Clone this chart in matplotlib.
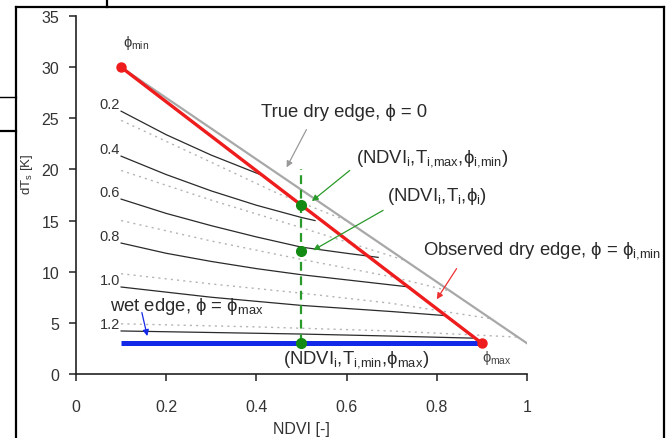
import matplotlib
matplotlib.use('Agg')
import matplotlib.pyplot as plt
from matplotlib.lines import Line2D

plt.rcParams['font.family'] = ['Liberation Sans', 'DejaVu Sans']
plt.rcParams['mathtext.fontset'] = 'custom'
plt.rcParams['mathtext.rm'] = 'Liberation Sans'
plt.rcParams['mathtext.it'] = 'Liberation Sans:italic'

# edges of the triangle
edge_ndvi_obs = [0.1, 0.9]
edge_t_obs = [30, 3]
edge_ndvi_true = [0.1, 1.0]
edge_t_true = [30, 3]
wet_ndvi = [0.1, 0.9]
wet_t = [3, 3]

# phi isolines (solid, relative to observed dry edge)
iso_labels = ['0.2', '0.4', '0.6', '0.8', '1.0', '1.2']
iso_ndvi = [
    [0.1, 0.2, 0.3, 0.42],
    [0.1, 0.2, 0.3, 0.4, 0.5, 0.53],
    [0.1, 0.2, 0.3, 0.4, 0.5, 0.6, 0.67],
    [0.1, 0.2, 0.3, 0.4, 0.5, 0.6, 0.74],
    [0.1, 0.2, 0.3, 0.4, 0.5, 0.6, 0.7, 0.82],
    [0.1, 0.3, 0.5, 0.7, 0.88],
]
iso_t = [
    [25.7, 23.4, 21.4, 19.3],
    [21.3, 19.5, 17.9, 16.5, 15.3, 15.0],
    [17.1, 15.7, 14.5, 13.4, 12.4, 11.8, 11.4],
    [12.8, 11.8, 11.0, 10.3, 9.7, 9.2, 8.5],
    [8.5, 8.0, 7.5, 7.1, 6.7, 6.4, 6.1, 5.7],
    [4.2, 4.05, 3.9, 3.7, 3.5],
]

# dotted isolines (relative to true dry edge)
dot_ndvi = [
    [0.1, 0.3, 0.45, 0.6],
    [0.1, 0.3, 0.5, 0.73],
    [0.1, 0.3, 0.5, 0.7, 0.83],
    [0.1, 0.3, 0.5, 0.7, 0.92],
    [0.1, 0.4, 0.7, 0.98],
]
dot_t = [
    [24.8, 20.7, 17.6, 15.0],
    [19.9, 17.0, 14.3, 11.1],
    [15.0, 13.0, 11.2, 9.5, 8.1],
    [9.8, 8.8, 7.9, 6.9, 5.4],
    [4.9, 4.6, 4.2, 3.6],
]

pixel_ndvi = 0.5
pixel_t = [16.5, 12, 3]
pixel_line_top = 20

fig = plt.figure(figsize=(6.67, 4.39), dpi=100)
ax = fig.add_axes([0.114, 0.146, 0.676, 0.815])

for xs, ys in zip(dot_ndvi, dot_t):
    ax.plot(xs, ys, color='#b4b4b4', lw=1.0, linestyle=(0, (1.5, 3)))
for lab, xs, ys in zip(iso_labels, iso_ndvi, iso_t):
    ax.plot(xs, ys, color='#2a2a2a', lw=0.9)
    ax.text(xs[0] - 0.002, ys[0] + 0.7, lab, ha='right', va='center',
            fontsize=10.5, color='#333333')

ax.plot(edge_ndvi_true, edge_t_true, color='#a8a8a8', lw=1.6)
ax.plot(wet_ndvi, wet_t, color='#1428e8', lw=3.6, solid_capstyle='butt')
ax.plot(edge_ndvi_obs, edge_t_obs, color='#ee1c1c', lw=2.4)
ax.plot(edge_ndvi_obs, edge_t_obs, 'o', color='#ee1c1c', ms=6.5)

ax.plot([pixel_ndvi, pixel_ndvi], [wet_t[0], pixel_line_top], color='#2a9a2a',
        lw=1.6, linestyle=(0, (4, 2.5)))
ax.plot([pixel_ndvi] * len(pixel_t), pixel_t, 'o', color='#138a13', ms=7)

ax.set_xlim(0, 1)
ax.set_ylim(0, 35)
ax.set_xticks([0, 0.2, 0.4, 0.6, 0.8, 1.0])
ax.set_xticklabels(['0', '0.2', '0.4', '0.6', '0.8', '1'])
ax.set_yticks(range(0, 36, 5))
for s in ['top', 'right']:
    ax.spines[s].set_visible(False)
for s in ['left', 'bottom']:
    ax.spines[s].set_color('#222222')
    ax.spines[s].set_linewidth(1.2)
ax.tick_params(direction='out', length=5, width=1.1, color='#222222',
               labelsize=11.5, labelcolor='#333333')
ax.tick_params(axis='x', pad=13)
ax.tick_params(axis='y', pad=7)
ax.set_xlabel('NDVI [-]', fontsize=11.5, color='#333333', labelpad=5)
ax.set_ylabel(r'dT$_{\rm s}$ [K]', fontsize=9.5, color='#333333')
ax.yaxis.set_label_coords(-0.09, 0.56)

txt = dict(fontsize=13.3, color='#2a2a2a', va='center', ha='left')
ax.text(0.104, 32.5, r'ϕ$_{\rm min}$', fontsize=10.5, color='#333333', va='center')
ax.text(0.41, 25.7, 'True dry edge, ϕ = 0', **txt)
ax.text(0.62, 21.2, r'(NDVI$_{\rm i}$,T$_{\rm i{,}max}$,ϕ$_{\rm i{,}min}$)', **txt)
ax.text(0.69, 17.5, r'(NDVI$_{\rm i}$,T$_{\rm i}$,ϕ$_{\rm i}$)', **txt)
ax.text(0.77, 12.2, r'Observed dry edge, ϕ = ϕ$_{\rm i{,}min}$', clip_on=False, **txt)
ax.text(0.075, 6.7, r'wet edge, ϕ = ϕ$_{\rm max}$', **txt)
ax.text(0.46, 1.5, r'(NDVI$_{\rm i}$,T$_{\rm i{,}min}$,ϕ$_{\rm max}$)', **txt)
ax.text(0.9, 1.7, r'ϕ$_{\rm max}$', fontsize=10.5, color='#444444', va='center')

def arrow(xy, xytext, color):
    ax.annotate('', xy=xy, xytext=xytext,
                arrowprops=dict(arrowstyle='-|>', color=color, lw=0.9,
                                mutation_scale=9, shrinkA=0, shrinkB=0))

arrow((0.467, 20.2), (0.511, 23.9), '#999999')
arrow((0.523, 16.9), (0.607, 19.9), '#2a9a2a')
arrow((0.526, 12.1), (0.681, 16.0), '#2a9a2a')
arrow((0.80, 7.3), (0.844, 10.3), '#ee3030')
arrow((0.158, 3.7), (0.146, 6.0), '#1428e8')

# frame of the scanned figure
W, H = 667, 439
def fline(x0, y0, x1, y1, lw=1.6):
    fig.add_artist(Line2D([x0 / W, x1 / W], [1 - y0 / H, 1 - y1 / H],
                          color='black', lw=lw, transform=fig.transFigure))

fline(16, 8, 664, 8)
fline(16, 8, 16, 439)
fline(664, 8, 664, 439)
fline(107, 0, 107, 8)
fline(0, 98, 16, 98, lw=1.0)
fline(0, 132, 16, 132)

plt.savefig('out.png', dpi=100)
